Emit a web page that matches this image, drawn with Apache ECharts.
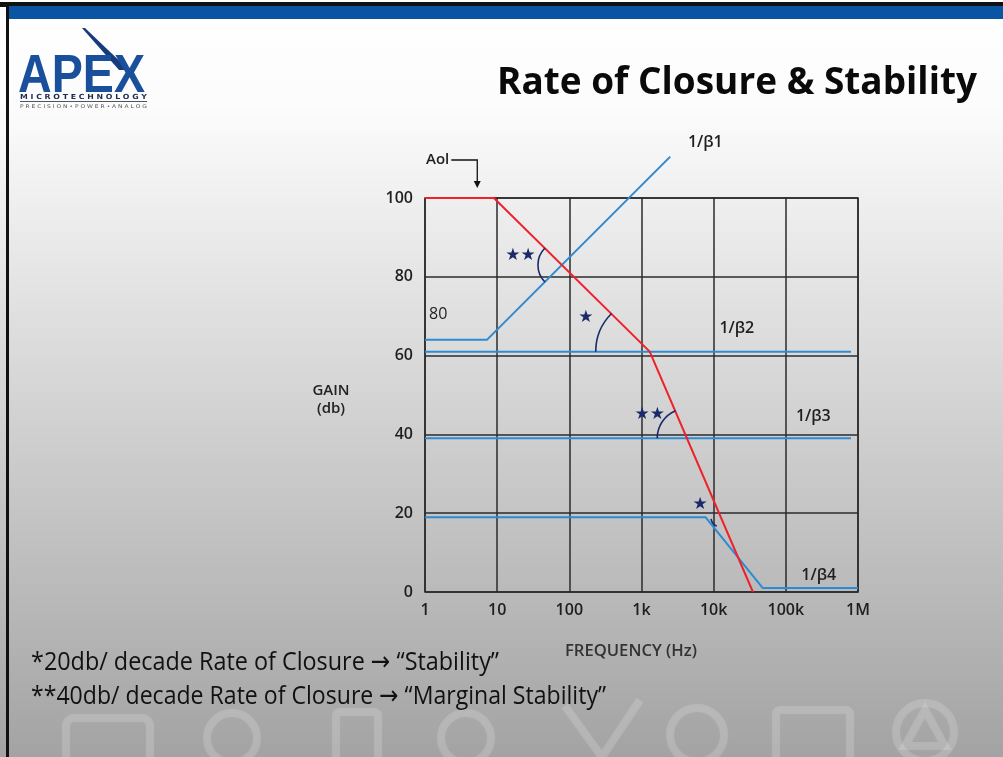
<!DOCTYPE html>
<html>
<head>
<meta charset="utf-8">
<script src="https://cdn.jsdelivr.net/npm/echarts@6/dist/echarts.min.js"></script>
<style>
    html, body { margin: 0; padding: 0; }
    #chart { width: 1003px; height: 757px; }
</style>
</head>
<body>
<div id="chart"></div>
<script>
    // axis ticks
    const xTickLabels = ['1', '10', '100', '1k', '10k', '100k', '1M'];

    // breakpoints: frequency (Hz) / gain (dB)
    const aolFreq = [1, 9, 1300, 35000];
    const aolGain = [100, 100, 61, 0];
    const beta1Freq = [1, 7.2, 2500];
    const beta1Gain = [64, 64, 110.5];
    const beta2Freq = [1, 800000];
    const beta2Gain = [61, 61];
    const beta3Freq = [1, 800000];
    const beta3Gain = [39, 39];
    const beta4Freq = [1, 7700, 48000, 1000000];
    const beta4Gain = [19, 19, 1, 1];

    // annotations, anchored in [Hz, dB]
    const lineNames = ['1/β1', '1/β2', '1/β3', '1/β4', '80'];
    const lineNameAt = [[4400, 114], [12000, 67], [138000, 44.5], [164000, 4.3], [1.14, 70.4]];
    const starText = ['★★', '★', '★★', '★'];
    const starAt = [[21, 85.5], [170, 69.6], [1300, 45], [6500, 22.3]];
    const arcAt = [[79, 83], [1300, 61], [4300, 39], [12600, 19]];

    const pairs = (xs, ys) => xs.map((x, i) => [x, ys[i]]);
    const blue = '#2b8bd4';
    const red = '#f0212b';
    const navy = '#1b2a6b';
    const ink = '#1e1e1e';

    const chart = echarts.init(document.getElementById('chart'));

    const blueLine = (name, xs, ys, extra) => Object.assign({
        name: name,
        type: 'line',
        data: pairs(xs, ys),
        symbol: 'none',
        silent: true,
        lineStyle: { color: blue, width: 2 }
    }, extra || {});

    chart.setOption({
        animation: false,
        backgroundColor: {
            type: 'linear', x: 0, y: 0, x2: 0, y2: 1,
            colorStops: [
                { offset: 0, color: '#ffffff' },
                { offset: 0.14, color: '#fcfcfc' },
                { offset: 1, color: '#a3a3a3' }
            ]
        },
        grid: {
            left: 425, right: 145, top: 198, bottom: 165,
            show: true, borderColor: '#2b2b2b', borderWidth: 1.5
        },
        xAxis: {
            type: 'log', logBase: 10, min: 1, max: 1000000, interval: 1,
            axisLine: { show: false }, axisTick: { show: false },
            splitLine: { show: true, lineStyle: { color: '#2b2b2b', width: 1.5 } },
            axisLabel: {
                margin: 10, color: ink, fontSize: 16, fontWeight: 600, fontFamily: 'Open Sans',
                formatter: v => xTickLabels[Math.round(Math.log10(v))]
            }
        },
        yAxis: {
            type: 'value', min: 0, max: 100, interval: 20,
            axisLine: { show: false }, axisTick: { show: false },
            splitLine: { show: true, lineStyle: { color: '#2b2b2b', width: 1.5 } },
            axisLabel: { margin: 12, color: ink, fontSize: 16, fontWeight: 600, fontFamily: 'Open Sans' }
        },
        series: [
            blueLine('1/β2', beta2Freq, beta2Gain),
            blueLine('1/β3', beta3Freq, beta3Gain),
            blueLine('1/β4', beta4Freq, beta4Gain),
            blueLine('1/β1', beta1Freq, beta1Gain, { clip: false }),
            {
                name: 'Aol', type: 'line', data: pairs(aolFreq, aolGain),
                symbol: 'none', silent: true, clip: false,
                lineStyle: { color: red, width: 2 }
            }
        ]
    });

    // ---- decorations and annotations (need the laid out grid) ----
    const px = v => chart.convertToPixel({ gridIndex: 0 }, v);
    const measure = document.createElement('canvas').getContext('2d');
    const fit = (text, font, width) => { measure.font = font; return width / measure.measureText(text).width; };

    function text(str, x, y, o) {
        const font = `${o.weight || 'normal'} ${o.size}px ${o.family || '"Open Sans"'}`;
        return {
            type: 'text', x: x, y: y, z: 10,
            scaleX: o.width ? fit(str, font, o.width) : 1,
            style: {
                text: str, font: font, fill: o.color || ink,
                align: o.align || 'left', verticalAlign: o.valign || 'middle'
            }
        };
    }

    const g = [];
    // slide frame
    g.push({ type: 'rect', shape: { x: 0, y: 2, width: 1003, height: 5 }, style: { fill: '#111' } });
    g.push({ type: 'rect', shape: { x: 6, y: 6, width: 997, height: 13 }, style: { fill: '#0a55a3' } });
    g.push({ type: 'rect', shape: { x: 6, y: 2, width: 3, height: 755 }, style: { fill: '#111' } });

    // faint watermark icons along the bottom
    const wm = { stroke: 'rgba(255,255,255,0.16)', fill: 'none', lineWidth: 8, shadowBlur: 6, shadowColor: 'rgba(255,255,255,0.2)' };
    g.push({ type: 'rect', shape: { x: 66, y: 718, width: 84, height: 60, r: 8 }, style: wm });
    g.push({ type: 'circle', shape: { cx: 232, cy: 738, r: 25 }, style: wm });
    g.push({ type: 'rect', shape: { x: 336, y: 712, width: 42, height: 60, r: 4 }, style: wm });
    g.push({ type: 'circle', shape: { cx: 466, cy: 738, r: 25 }, style: wm });
    g.push({ type: 'polyline', shape: { points: [[565, 706], [602, 757], [640, 700]] }, style: wm });
    g.push({ type: 'circle', shape: { cx: 697, cy: 735, r: 27 }, style: wm });
    g.push({ type: 'rect', shape: { x: 776, y: 710, width: 74, height: 60, r: 4 }, style: wm });
    g.push({ type: 'circle', shape: { cx: 925, cy: 732, r: 29 }, style: wm });
    g.push({ type: 'polygon', shape: { points: [[925, 710], [905, 746], [945, 746]] }, style: wm });

    // logo
    g.push({ type: 'polygon', shape: { points: [[82, 28], [85, 28], [129, 70], [119, 70]] }, style: { fill: '#163a7a' } });
    g.push(text('APEX', 18, 77, { size: 54, weight: 'bold', family: '"Liberation Sans"', color: '#1a4f9c', width: 127 }));
    g.push(text('M I C R O T E C H N O L O G Y', 20, 97, { size: 7, weight: 'bold', family: '"DejaVu Sans"', color: '#1c2b55', width: 127 }));
    g.push({ type: 'rect', shape: { x: 20, y: 101, width: 127, height: 1 }, style: { fill: '#555' } });
    g.push(text('P R E C I S I O N • P O W E R • A N A L O G', 20, 107, { size: 5, family: '"DejaVu Sans"', color: '#555', width: 127 }));

    // title and notes
    g.push(text('Rate of Closure & Stability', 497, 83, { size: 38, weight: 'bold', color: '#0a0a0a', width: 480 }));
    g.push(text('*20db/ decade Rate of Closure → “Stability”', 31, 663, { size: 26, color: '#111', family: '"Open Sans", "DejaVu Sans"', width: 468 }));
    g.push(text('**40db/ decade Rate of Closure → “Marginal Stability”', 31, 697, { size: 26, color: '#111', family: '"Open Sans", "DejaVu Sans"', width: 575 }));
    g.push(text('FREQUENCY (Hz)', 565, 651, { size: 16, weight: 600, color: '#333', width: 132 }));
    g.push(text('GAIN', 331, 391, { size: 15, weight: 600, color: '#222', align: 'center' }));
    g.push(text('(db)', 331, 409, { size: 15, weight: 600, color: '#222', align: 'center' }));

    // line names
    lineNames.forEach((s, i) => {
        const p = px(lineNameAt[i]);
        g.push(text(s, p[0], p[1], { size: 16, weight: i < 4 ? 600 : 500 }));
    });

    // Aol pointer
    const tip = px([5.3, 100]);
    const corner = [tip[0], tip[1] - 38];
    g.push({ type: 'polyline', z: 10, shape: { points: [[corner[0] - 26, corner[1]], corner, [tip[0], tip[1] - 16]] }, style: { stroke: '#111', lineWidth: 1.3, fill: 'none' } });
    g.push({ type: 'polygon', z: 10, shape: { points: [[tip[0] - 3.5, tip[1] - 17], [tip[0] + 3.5, tip[1] - 17], [tip[0], tip[1] - 10]] }, style: { fill: '#111' } });
    g.push(text('Aol', corner[0] - 28, corner[1], { size: 15, weight: 600, align: 'right' }));

    // stars
    starText.forEach((s, i) => {
        const p = px(starAt[i]);
        g.push(text(s, p[0], p[1], { size: 17, family: '"DejaVu Sans"', color: navy, align: 'center' }));
    });

    // closure angle arcs
    const deg = Math.PI / 180;
    const arcR = [24, 54, 30, 10];
    const arcFrom = [135, 180, 180, 115];
    const arcTo = [225, 225, 247, 170];
    arcAt.forEach((c, i) => {
        const p = px(c);
        g.push({
            type: 'arc', z: 9,
            shape: { cx: p[0], cy: p[1], r: arcR[i], startAngle: arcFrom[i] * deg, endAngle: arcTo[i] * deg, clockwise: true },
            style: { stroke: navy, lineWidth: 1.6, fill: 'none' }
        });
    });

    chart.setOption({ graphic: g });
</script>
</body>
</html>
